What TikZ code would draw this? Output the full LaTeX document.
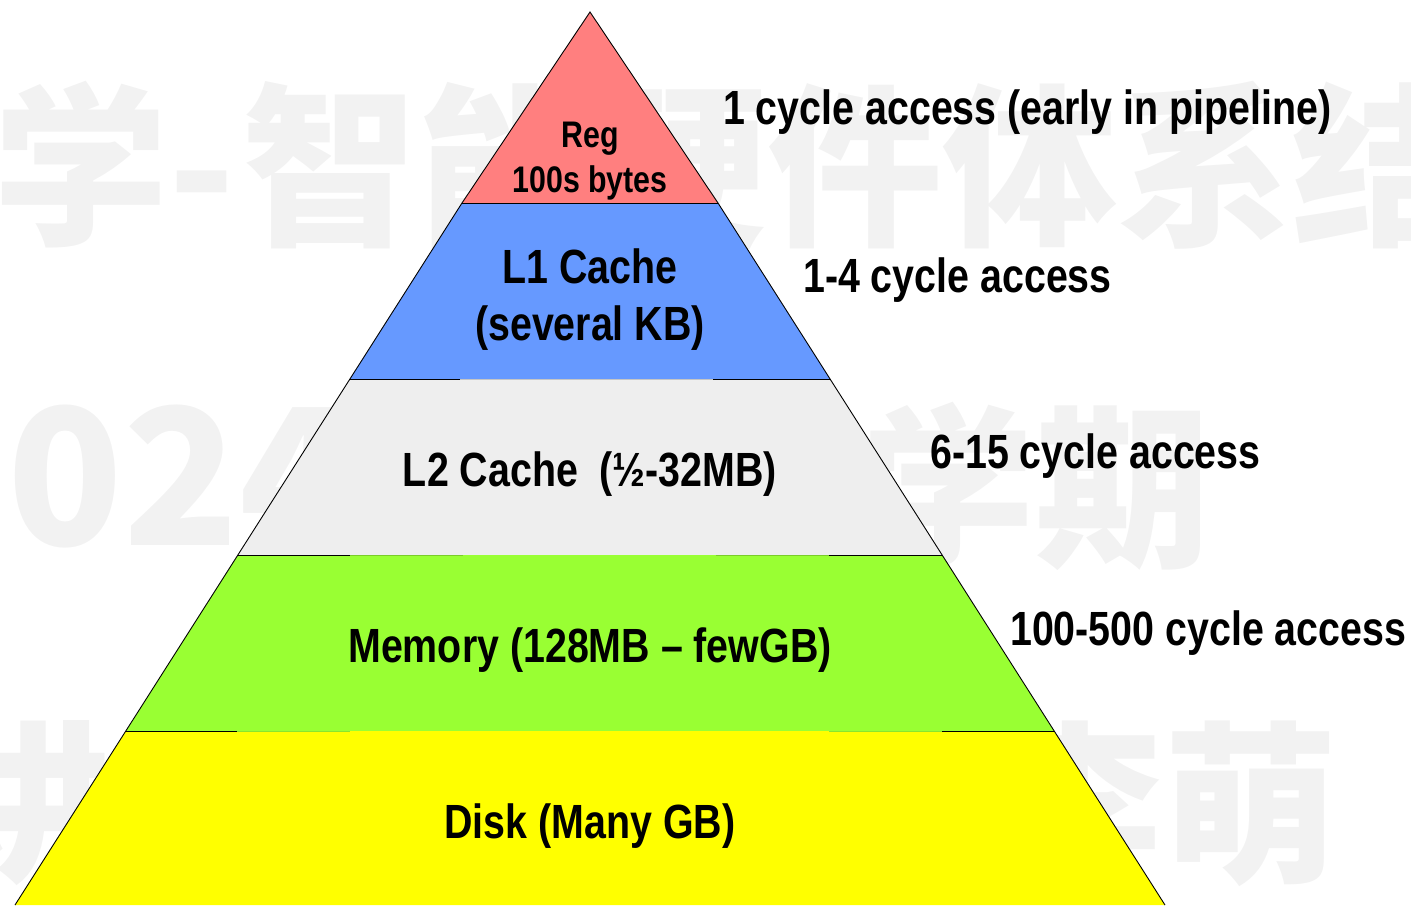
\documentclass[tikz,border=0pt]{standalone}
\usepackage{fontspec}
\newfontfamily\labelfont{Liberation Sans}[FakeStretch=0.82]
\newfontfamily\markfont{Noto Sans CJK SC}
\definecolor{regred}{HTML}{FF7F7F}
\definecolor{lonebl}{HTML}{6699FF}
\definecolor{ltwogr}{HTML}{EEEEEE}
\definecolor{memgrn}{HTML}{99FF33}
\definecolor{diskyl}{HTML}{FFFF00}
\definecolor{wmgray}{HTML}{F2F2F2}
\begin{document}
\begin{tikzpicture}[x=1pt,y=-1pt,
  lbl/.style={font=\labelfont\bfseries\fontsize{48}{50}\selectfont, inner sep=0, anchor=base west},
  tier/.style={font=\labelfont\bfseries\fontsize{48}{50}\selectfont, inner sep=0, anchor=base},
  tiersmall/.style={font=\labelfont\bfseries\fontsize{37}{40}\selectfont, inner sep=0, anchor=base},
  wmark/.style={font=\markfont\bfseries\fontsize{175}{180}\selectfont, text=wmgray, inner sep=0, anchor=base west},
  wdigits/.style={wmark, font=\markfont\bfseries\fontsize{190}{195}\selectfont},
  edge/.style={black, line width=0.9pt},
  seam/.style={line width=0.9pt}]
\useasboundingbox (0,0) rectangle (1411,905);

% background watermark
\node[wmark] (wa) at (-7,232) {学-\hspace{7pt}智能硬件体系结构};
\node[wdigits] (wb) at (-108,545) {2024};
\node[wmark] (wc) at (860,553) {学期};
\node[wmark] (wd) at (-63,870) {讲};
\node[wmark] (we) at (988,870) {李萌};

% pyramid corners
\coordinate (apex) at (590,12);
\coordinate (l1) at (462,203);  \coordinate (r1) at (718,203);
\coordinate (l2) at (350,379);  \coordinate (r2) at (830,379);
\coordinate (l3) at (238,555);  \coordinate (r3) at (942,555);
\coordinate (l4) at (126,731);  \coordinate (r4) at (1054,731);
\coordinate (l5) at (15,905);   \coordinate (r5) at (1165,905);

% tiers
\fill[regred] (apex) -- (l1) -- (r1) -- cycle;
\fill[lonebl] (l1) -- (l2) -- (r2) -- (r1) -- cycle;
\fill[ltwogr] (l2) -- (l3) -- (r3) -- (r2) -- cycle;
\fill[memgrn] (l3) -- (l4) -- (r4) -- (r3) -- cycle;
\fill[diskyl] (l4) -- (l5) -- (r5) -- (r4) -- cycle;

% seams between tiers
\draw[edge] (l1) -- (r1);
\draw[edge] (l2) -- (460,379);
\draw[seam, gray!45] (460,379) -- (713,379);
\draw[edge] (713,379) -- (r2);
\draw[edge] (l3) -- (350,555);
\draw[seam, memgrn!80!black] (350,555) -- (463,555);
\draw[seam, memgrn!80!black] (716,555) -- (829,555);
\draw[edge] (829,555) -- (r3);
\draw[edge] (l4) -- (237,731);
\draw[seam, memgrn!90!black] (237,731) -- (350,731);
\draw[seam, memgrn!90!black] (829,731) -- (942,731);
\draw[edge] (942,731) -- (r4);

% outer sides
\draw[edge, line join=miter] (l5) -- (l1) -- (apex) -- (r1) -- (r5);

% tier labels
\node[tiersmall] (reg) at (590,147) {Reg};
\node[tiersmall] (regb) at (590,192) {100s bytes};
\node[tier] (lone) at (590,283) {L1 Cache};
\node[tier] (loneb) at (590,340) {(several KB)};
\node[tier] (ltwo) at (590,486) {L2 Cache\ \ (½-32MB)};
\node[tier] (mem) at (590,662) {Memory (128MB – fewGB)};
\node[tier] (disk) at (590,838) {Disk (Many GB)};

% access times
\node[lbl] (ta) at (723,124) {1 cycle access (early in pipeline)};
\node[lbl] (tb) at (803,292) {1-4 cycle access};
\node[lbl] (tc) at (930,468) {6-15 cycle access};
\node[lbl] (td) at (1010,645) {100-500 cycle access};
\end{tikzpicture}
\end{document}
